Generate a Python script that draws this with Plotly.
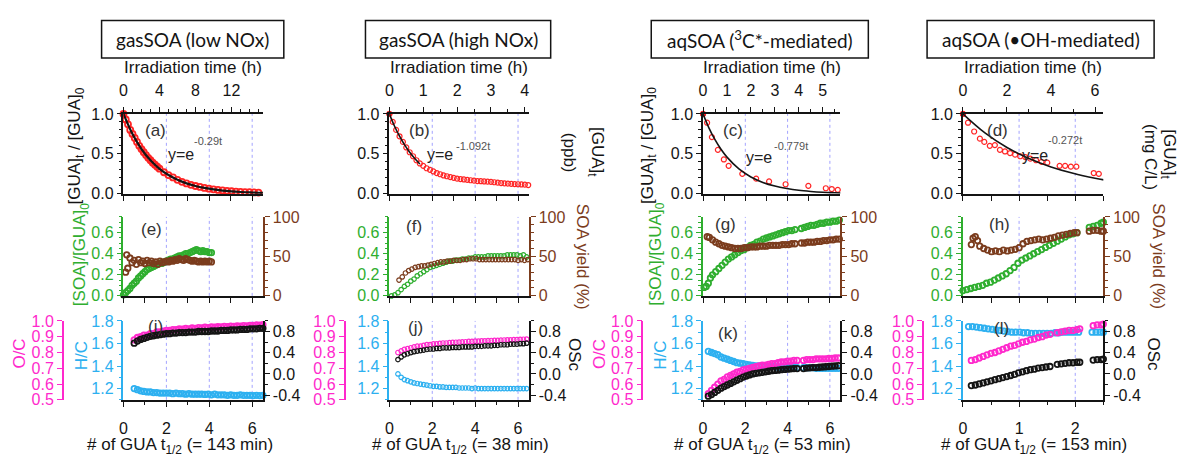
import plotly.graph_objects as go

W, H = 1183, 457
FONT = "Liberation Sans, Arial, sans-serif"
TITLE_FONT = "Lato, Liberation Sans, sans-serif"

RED = "#ff2424"
GREEN = "#2fae2f"
BROWN = "#7b3c1d"
MAGENTA = "#ff29cc"
BLUE = "#2db0f0"
BLACK = "#141414"
DASH = "#a3a3ff"

# ---------------- DATA ----------------
titles = ["gasSOA (low NOx)", "gasSOA (high NOx)",
          "aqSOA (<sup>3</sup>C*-mediated)", "aqSOA (\u2022OH-mediated)"]
half_life_min = [143, 38, 53, 153]
n_max = [6.5, 6.5, 6.5, 2.5]
fit_exponents = ["-0.29t", "-1.092t", "-0.779t", "-0.272t"]
letters = [["(a)", "(e)", "(i)"], ["(b)", "(f)", "(j)"],
           ["(c)", "(g)", "(k)"], ["(d)", "(h)", "(l)"]]
r1_right_max = [5.53, 51.7, 12.45, 12.45]
r1_right_ticks = [[0, 1, 2, 3, 4, 5], [0, 10, 20, 30, 40, 50], [0, 4, 8, 12], [0, 4, 8, 12]]
hour_ticks = [[0, 4, 8, 12], [0, 1, 2, 3, 4], [0, 1, 2, 3, 4, 5], [0, 2, 4, 6]]
hour_minor = [1, 0.5, 0.5, 1]
n_ticks = [[0, 2, 4, 6], [0, 2, 4, 6], [0, 2, 4, 6], [0, 1, 2]]
n_minor = [1, 1, 1, 0.5]
half_life_marks = [[2, 4, 6], [2, 4, 6], [2, 4, 6], [1, 2]]
frac_ticks = [0.0, 0.5, 1.0]
soa_ticks = [0.0, 0.2, 0.4, 0.6]
yield_ticks = [0, 50, 100]
hc_ticks = [1.2, 1.4, 1.6, 1.8]
oc_ticks = [0.5, 0.6, 0.7, 0.8, 0.9, 1.0]
osc_ticks = [-0.4, 0.0, 0.4, 0.8]

# (a)-(d): [GUA]t/[GUA]0 vs irradiation time (h)
a_t = [0, 0.25, 0.5, 0.75, 1, 1.25, 1.5, 1.75, 2, 2.25, 2.5, 2.75, 3, 3.25, 3.5, 3.75, 4,
       4.5, 5, 5.5, 6, 6.5, 7, 7.5, 8, 8.5, 9, 9.5, 10, 10.5, 11, 11.5, 12, 12.5, 13, 13.5,
       14, 14.5, 15, 15.5]
a_gua = [1.00, 0.93, 0.87, 0.80, 0.75, 0.70, 0.65, 0.60, 0.56, 0.52, 0.485, 0.45, 0.42, 0.39,
         0.365, 0.34, 0.315, 0.27, 0.235, 0.205, 0.175, 0.15, 0.13, 0.113, 0.098, 0.086, 0.074,
         0.064, 0.056, 0.049, 0.042, 0.037, 0.032, 0.028, 0.025, 0.022, 0.02, 0.018, 0.016, 0.015]
a_fit_t = [0, 1, 2, 3, 4, 5, 6, 7, 8, 9, 10, 11, 12, 13, 14, 15, 15.5]
a_fit = [1.0, 0.748, 0.560, 0.419, 0.313, 0.235, 0.176, 0.131, 0.098, 0.074, 0.055, 0.041,
         0.031, 0.023, 0.017, 0.013, 0.011]

b_t = [0, 0.1, 0.2, 0.3, 0.4, 0.5, 0.6, 0.7, 0.8, 0.9, 1.0, 1.1, 1.2, 1.3, 1.4, 1.5, 1.6, 1.7,
       1.8, 1.9, 2.0, 2.1, 2.2, 2.3, 2.4, 2.5, 2.6, 2.7, 2.8, 2.9, 3.0, 3.1, 3.2, 3.3, 3.4, 3.5,
       3.6, 3.7, 3.8, 3.9, 4.0, 4.1]
b_gua = [1.0, 0.90, 0.80, 0.72, 0.65, 0.58, 0.52, 0.47, 0.42, 0.38, 0.35, 0.32, 0.30, 0.28,
         0.26, 0.245, 0.23, 0.22, 0.21, 0.20, 0.19, 0.185, 0.18, 0.175, 0.17, 0.165, 0.16,
         0.158, 0.155, 0.152, 0.15, 0.145, 0.14, 0.135, 0.13, 0.128, 0.125, 0.122, 0.12,
         0.117, 0.115, 0.11]
b_fit_t = [0, 0.15, 0.3, 0.45, 0.6, 0.75, 0.9]
b_fit = [1.0, 0.849, 0.721, 0.612, 0.519, 0.441, 0.374]

c_t = [0, 0.17, 0.37, 0.62, 0.87, 1.07, 1.64, 2.22, 2.76, 3.45, 4.40, 5.13, 5.38, 5.63]
c_gua = [1.0, 0.89, 0.71, 0.55, 0.43, 0.35, 0.25, 0.19, 0.155, 0.12, 0.10, 0.07, 0.06, 0.05]
c_fit_t = [0, 0.25, 0.5, 0.75, 1, 1.5, 2, 2.5, 3, 3.5, 4, 4.5, 5, 5.5, 5.75]
c_fit = [1.0, 0.823, 0.677, 0.557, 0.459, 0.311, 0.211, 0.143, 0.097, 0.066, 0.044, 0.030,
         0.020, 0.014, 0.011]

d_t = [0, 0.23, 0.51, 0.77, 0.97, 1.22, 1.45, 1.68, 1.91, 2.14, 2.37, 2.60, 2.83, 3.06, 3.32,
       3.57, 3.83, 4.39, 4.64, 4.90, 5.15, 5.94, 6.17]
d_gua = [1.0, 0.89, 0.78, 0.69, 0.65, 0.60, 0.61, 0.55, 0.53, 0.51, 0.49, 0.47, 0.46, 0.44,
         0.42, 0.40, 0.39, 0.35, 0.35, 0.34, 0.34, 0.26, 0.25]
d_fit_t = [0, 1, 2, 3, 4, 5, 6, 6.4]
d_fit = [1.0, 0.762, 0.580, 0.442, 0.337, 0.257, 0.195, 0.175]

# (e)-(h): [SOA]/[GUA]0 and SOA yield (%) vs number of GUA half-lives
e_n = [0.0, 0.1, 0.2, 0.3, 0.4, 0.5, 0.6, 0.7, 0.8, 0.9, 1.0, 1.1, 1.2, 1.3, 1.4, 1.5, 1.6,
       1.7, 1.8, 1.9, 2.0, 2.1, 2.2, 2.3, 2.4, 2.5, 2.6, 2.7, 2.8, 2.9, 3.0, 3.1, 3.2, 3.3, 3.4,
       3.5, 3.6, 3.7, 3.8, 3.9, 4.0, 4.1]
e_soa = [0.01, 0.03, 0.05, 0.07, 0.10, 0.12, 0.14, 0.17, 0.19, 0.21, 0.23, 0.25, 0.26, 0.27,
         0.28, 0.29, 0.30, 0.31, 0.31, 0.32, 0.33, 0.34, 0.35, 0.35, 0.36, 0.37, 0.38, 0.38,
         0.39, 0.40, 0.40, 0.41, 0.42, 0.43, 0.44, 0.43, 0.42, 0.43, 0.42, 0.42, 0.41, 0.41]
e_yn = [0.1, 0.15, 0.2, 0.3, 0.4, 0.5, 0.6, 0.7, 0.8, 0.9, 1.0, 1.1, 1.2, 1.3, 1.4, 1.5, 1.6,
        1.7, 1.8, 1.9, 2.0, 2.1, 2.2, 2.3, 2.4, 2.5, 2.6, 2.7, 2.8, 2.9, 3.0, 3.1, 3.2, 3.3,
        3.4, 3.5, 3.6, 3.7, 3.8, 3.9, 4.0, 4.1]
e_yield = [30, 52, 35, 48, 42, 45, 40, 46, 42, 44, 41, 45, 42, 44, 41, 43, 40, 44, 42, 43, 44,
           43, 45, 44, 46, 45, 47, 46, 45, 47, 46, 45, 44, 45, 44, 43, 44, 43, 44, 43, 44, 43]

f_n = [0.1, 0.25, 0.4, 0.55, 0.7, 0.85, 1.0, 1.15, 1.3, 1.45, 1.6, 1.75, 1.9, 2.05, 2.2, 2.35,
       2.5, 2.65, 2.8, 2.95, 3.1, 3.25, 3.4, 3.55, 3.7, 3.85, 4.0, 4.15, 4.3, 4.45, 4.6, 4.75,
       4.9, 5.05, 5.2, 5.35, 5.5, 5.65, 5.8, 5.95, 6.1, 6.25, 6.4]
f_soa = [0.0, 0.01, 0.03, 0.06, 0.09, 0.11, 0.14, 0.16, 0.19, 0.21, 0.23, 0.25, 0.27, 0.28,
         0.29, 0.30, 0.31, 0.32, 0.33, 0.33, 0.34, 0.34, 0.35, 0.35, 0.36, 0.36, 0.37, 0.37,
         0.37, 0.37, 0.38, 0.38, 0.38, 0.38, 0.38, 0.38, 0.39, 0.39, 0.39, 0.39, 0.38, 0.39, 0.37]
f_yn = [0.45, 0.6, 0.75, 0.9, 1.05, 1.2, 1.35, 1.5, 1.65, 1.8, 1.95, 2.1, 2.25, 2.4, 2.55, 2.7,
        2.85, 3.0, 3.15, 3.3, 3.45, 3.6, 3.75, 3.9, 4.05, 4.2, 4.35, 4.5, 4.65, 4.8, 4.95, 5.1,
        5.25, 5.4, 5.55, 5.7, 5.85, 6.0, 6.15, 6.3, 6.45]
f_yield = [20, 24, 29, 32, 34, 36, 37, 38, 38, 39, 40, 41, 42, 43, 43, 44, 44, 45, 45, 45, 46,
           46, 47, 47, 47, 46, 46, 46, 46, 46, 46, 46, 46, 46, 46, 46, 46, 45, 46, 45, 46]

g_n = [0.05, 0.15, 0.25, 0.35, 0.45, 0.6, 0.75, 0.9, 1.05, 1.2, 1.35, 1.5, 1.65, 1.8, 1.95,
       2.1, 2.25, 2.4, 2.55, 2.7, 2.85, 3.0, 3.15, 3.3, 3.45, 3.6, 3.75, 3.9, 4.05, 4.2, 4.35,
       4.65, 4.8, 4.95, 5.1, 5.25, 5.4, 5.55, 5.7, 5.85, 6.0, 6.15, 6.3, 6.45]
g_soa = [0.08, 0.09, 0.12, 0.17, 0.20, 0.23, 0.26, 0.29, 0.32, 0.35, 0.37, 0.39, 0.41, 0.43,
         0.44, 0.46, 0.48, 0.49, 0.51, 0.52, 0.54, 0.55, 0.56, 0.57, 0.58, 0.59, 0.60, 0.61,
         0.62, 0.62, 0.63, 0.64, 0.65, 0.66, 0.67, 0.67, 0.68, 0.69, 0.69, 0.70, 0.70, 0.71,
         0.71, 0.72]
g_yn = [0.2, 0.3, 0.45, 0.6, 0.75, 0.9, 1.05, 1.2, 1.35, 1.5, 1.65, 1.8, 1.95, 2.1, 2.25, 2.4,
        2.55, 2.7, 2.85, 3.0, 3.15, 3.3, 3.45, 3.6, 3.75, 3.9, 4.05, 4.2, 4.35, 4.65, 4.8, 4.95,
        5.1, 5.25, 5.4, 5.55, 5.7, 5.85, 6.0, 6.15, 6.3, 6.45]
g_yield = [75, 74, 71, 68, 66, 64, 63, 62, 61, 60, 60, 60, 61, 61, 62, 62, 62, 63, 63, 63, 64,
           64, 64, 64, 65, 65, 65, 66, 66, 67, 67, 68, 68, 68, 69, 69, 70, 70, 71, 71, 72, 72]

h_n = [0, 0.07, 0.14, 0.21, 0.28, 0.35, 0.42, 0.49, 0.56, 0.63, 0.70, 0.77, 0.84, 0.91, 0.98,
       1.05, 1.12, 1.19, 1.26, 1.33, 1.40, 1.47, 1.54, 1.61, 1.68, 1.75, 1.82, 1.89, 1.96, 2.03,
       2.25, 2.32, 2.39, 2.46, 2.5]
h_soa = [0.05, 0.06, 0.07, 0.08, 0.09, 0.10, 0.12, 0.13, 0.15, 0.17, 0.19, 0.21, 0.24, 0.27,
         0.31, 0.34, 0.36, 0.38, 0.40, 0.42, 0.44, 0.46, 0.48, 0.50, 0.52, 0.54, 0.56, 0.58,
         0.59, 0.60, 0.65, 0.66, 0.67, 0.69, 0.70]
h_yn = [0.15, 0.18, 0.22, 0.26, 0.30, 0.37, 0.44, 0.51, 0.58, 0.65, 0.72, 0.79, 0.86, 0.93,
        1.00, 1.07, 1.14, 1.21, 1.28, 1.35, 1.42, 1.49, 1.56, 1.63, 1.70, 1.77, 1.84, 1.91,
        1.98, 2.03, 2.25, 2.32, 2.39, 2.46, 2.5]
h_yield = [65, 73, 75, 70, 63, 60, 58, 56, 57, 56, 58, 57, 58, 59, 61, 66, 69, 70, 71, 72, 71,
           72, 73, 74, 76, 77, 78, 79, 80, 80, 82, 83, 83, 82, 82]

# (i)-(l): H/C, O/C and OSc vs number of GUA half-lives
i_n = [0.5, 0.65, 0.8, 0.95, 1.1, 1.25, 1.4, 1.55, 1.7, 1.85, 2.0, 2.15, 2.3, 2.45, 2.6, 2.75,
       2.9, 3.05, 3.2, 3.35, 3.5, 3.65, 3.8, 3.95, 4.1, 4.25, 4.4, 4.55, 4.7, 4.85, 5.0, 5.15,
       5.3, 5.45, 5.6, 5.75, 5.9, 6.05, 6.2, 6.35, 6.5]
i_hc = [1.20, 1.19, 1.18, 1.175, 1.17, 1.17, 1.165, 1.165, 1.16, 1.16, 1.16, 1.16, 1.155, 1.16,
        1.155, 1.155, 1.15, 1.155, 1.15, 1.15, 1.15, 1.15, 1.148, 1.15, 1.145, 1.15, 1.145,
        1.145, 1.145, 1.14, 1.145, 1.14, 1.14, 1.145, 1.14, 1.14, 1.14, 1.138, 1.14, 1.138, 1.14]
i_oc = [0.88, 0.895, 0.90, 0.91, 0.91, 0.92, 0.92, 0.93, 0.93, 0.935, 0.94, 0.94, 0.945, 0.945,
        0.95, 0.948, 0.952, 0.95, 0.955, 0.953, 0.957, 0.955, 0.96, 0.958, 0.962, 0.96, 0.963,
        0.962, 0.965, 0.964, 0.967, 0.966, 0.968, 0.967, 0.97, 0.969, 0.972, 0.971, 0.974,
        0.973, 0.976]
i_osc = [0.58, 0.62, 0.65, 0.67, 0.69, 0.71, 0.72, 0.73, 0.74, 0.75, 0.76, 0.76, 0.77, 0.77,
         0.78, 0.78, 0.78, 0.79, 0.79, 0.79, 0.80, 0.80, 0.80, 0.80, 0.81, 0.81, 0.81, 0.82,
         0.82, 0.82, 0.83, 0.83, 0.83, 0.84, 0.84, 0.84, 0.85, 0.85, 0.85, 0.86, 0.86]

j_n = [0.4, 0.55, 0.7, 0.85, 1.0, 1.15, 1.3, 1.45, 1.6, 1.75, 1.9, 2.05, 2.2, 2.35, 2.5, 2.65,
       2.8, 2.95, 3.1, 3.25, 3.4, 3.55, 3.7, 3.85, 4.0, 4.15, 4.3, 4.45, 4.6, 4.75, 4.9, 5.05,
       5.2, 5.35, 5.5, 5.65, 5.8, 5.95, 6.1, 6.25, 6.4]
j_hc = [1.33, 1.30, 1.28, 1.27, 1.26, 1.25, 1.245, 1.24, 1.235, 1.23, 1.225, 1.22, 1.22, 1.215,
        1.215, 1.21, 1.21, 1.21, 1.21, 1.205, 1.205, 1.205, 1.205, 1.20, 1.205, 1.20, 1.20,
        1.20, 1.20, 1.20, 1.20, 1.20, 1.20, 1.20, 1.20, 1.20, 1.20, 1.20, 1.20, 1.20, 1.20]
j_oc = [0.80, 0.81, 0.82, 0.825, 0.83, 0.835, 0.84, 0.84, 0.845, 0.85, 0.85, 0.855, 0.855,
        0.858, 0.86, 0.86, 0.862, 0.864, 0.865, 0.866, 0.867, 0.868, 0.87, 0.87, 0.872, 0.872,
        0.874, 0.874, 0.875, 0.876, 0.877, 0.877, 0.878, 0.879, 0.88, 0.88, 0.881, 0.882,
        0.883, 0.884, 0.885]
j_osc = [0.27, 0.32, 0.36, 0.38, 0.40, 0.42, 0.43, 0.44, 0.45, 0.46, 0.47, 0.47, 0.48, 0.48,
         0.49, 0.49, 0.49, 0.50, 0.50, 0.50, 0.51, 0.51, 0.51, 0.51, 0.52, 0.52, 0.52, 0.53,
         0.53, 0.53, 0.54, 0.54, 0.55, 0.55, 0.55, 0.56, 0.56, 0.56, 0.57, 0.57, 0.58]

k_n = [0.25, 0.4, 0.55, 0.7, 0.85, 1.0, 1.15, 1.3, 1.45, 1.6, 1.75, 1.9, 2.05, 2.2, 2.35, 2.5,
       2.65, 2.8, 2.95, 3.1, 3.25, 3.4, 3.55, 3.7, 3.85, 4.0, 4.15, 4.3, 4.45, 4.75, 4.9, 5.05,
       5.2, 5.35, 5.5, 5.65, 5.8, 5.95, 6.1, 6.25, 6.4]
k_hc = [1.53, 1.52, 1.51, 1.50, 1.48, 1.47, 1.46, 1.45, 1.44, 1.43, 1.425, 1.42, 1.415, 1.41,
        1.405, 1.40, 1.40, 1.40, 1.40, 1.395, 1.395, 1.395, 1.39, 1.39, 1.39, 1.39, 1.39, 1.39,
        1.385, 1.385, 1.385, 1.385, 1.385, 1.38, 1.38, 1.38, 1.38, 1.38, 1.38, 1.38, 1.38]
k_oc = [0.54, 0.56, 0.58, 0.60, 0.62, 0.63, 0.645, 0.655, 0.665, 0.675, 0.68, 0.69, 0.695,
        0.70, 0.705, 0.71, 0.715, 0.72, 0.72, 0.725, 0.73, 0.73, 0.735, 0.74, 0.74, 0.745,
        0.745, 0.75, 0.75, 0.75, 0.755, 0.755, 0.755, 0.76, 0.76, 0.76, 0.76, 0.762, 0.762,
        0.765, 0.765]
k_osc = [-0.42, -0.39, -0.35, -0.31, -0.27, -0.24, -0.21, -0.18, -0.15, -0.12, -0.09, -0.06,
         -0.04, -0.02, 0.0, 0.01, 0.02, 0.03, 0.04, 0.05, 0.06, 0.065, 0.07, 0.08, 0.085, 0.09,
         0.095, 0.10, 0.10, 0.10, 0.11, 0.115, 0.12, 0.12, 0.125, 0.13, 0.135, 0.14, 0.145,
         0.15, 0.155]

l_hn = [0.10, 0.17, 0.24, 0.31, 0.38, 0.45, 0.52, 0.59, 0.66, 0.73, 0.80, 0.87, 0.94, 1.01,
        1.08, 1.15, 1.22, 1.29, 1.36, 1.43, 1.50, 1.57, 1.64, 1.71, 1.78, 1.85, 1.92, 1.99,
        2.06, 2.30, 2.37, 2.44, 2.50]
l_hc = [1.75, 1.75, 1.745, 1.74, 1.735, 1.73, 1.725, 1.72, 1.715, 1.71, 1.705, 1.70, 1.70,
        1.70, 1.695, 1.695, 1.69, 1.69, 1.69, 1.69, 1.69, 1.69, 1.695, 1.695, 1.70, 1.70, 1.70,
        1.70, 1.70, 1.70, 1.70, 1.70, 1.70]
l_n = [0.15, 0.22, 0.29, 0.36, 0.43, 0.50, 0.57, 0.64, 0.71, 0.78, 0.85, 0.92, 0.99, 1.06,
       1.13, 1.20, 1.27, 1.34, 1.41, 1.48, 1.55, 1.68, 1.75, 1.82, 1.89, 1.96, 2.03, 2.08,
       2.32, 2.39, 2.46, 2.50]
l_oc = [0.75, 0.755, 0.765, 0.775, 0.785, 0.795, 0.80, 0.81, 0.82, 0.83, 0.84, 0.845, 0.855,
        0.865, 0.87, 0.88, 0.885, 0.895, 0.90, 0.91, 0.915, 0.925, 0.93, 0.935, 0.94, 0.94,
        0.945, 0.95, 0.97, 0.975, 0.975, 0.98]
l_osc = [-0.22, -0.21, -0.19, -0.17, -0.15, -0.13, -0.11, -0.09, -0.07, -0.05, -0.03, -0.01,
         0.02, 0.04, 0.06, 0.08, 0.09, 0.11, 0.12, 0.13, 0.14, 0.18, 0.19, 0.20, 0.21, 0.21,
         0.22, 0.22, 0.26, 0.27, 0.27, 0.28]

gua = [(a_t, a_gua, a_fit_t, a_fit), (b_t, b_gua, b_fit_t, b_fit),
       (c_t, c_gua, c_fit_t, c_fit), (d_t, d_gua, d_fit_t, d_fit)]
soa = [(e_n, e_soa, e_yn, e_yield), (f_n, f_soa, f_yn, f_yield),
       (g_n, g_soa, g_yn, g_yield), (h_n, h_soa, h_yn, h_yield)]
elem = [(i_n, i_hc, i_n, i_oc, i_osc), (j_n, j_hc, j_n, j_oc, j_osc),
        (k_n, k_hc, k_n, k_oc, k_osc), (l_hn, l_hc, l_n, l_oc, l_osc)]

# ---------------- LAYOUT (pixel geometry) ----------------
COL_L = [120, 387, 702, 963]
COL_R = [260, 527, 840, 1104]
OC_X = [59, 342, 641, 923]
ROWS = [(110, 193), (217, 299), (325, 407)]
BOX = [(98, 281), (363, 549), (650, 868), (927, 1155)]
BOTTOM_TITLE_X = [177, 458, 762, 1034]
LETTER_POS = [[(152, 127), (148, 230), (152, 331)], [(417, 127), (412, 227), (413, 332)],
              [(732, 127), (725, 225), (727, 338)], [(998, 127), (1000, 225), (1002, 333)]]
FIT_POS = [((163, 152), (205, 138)), ((423, 152), (471, 143)),
           ((743, 155), (790, 143)), ((1020, 153), (1066, 137))]
dense = [True, False, True, True]

fig = go.Figure()
layout = {}
shapes = []
annotations = []
counter = {"x": 0, "y": 0}


def new_axis(kind):
    counter[kind] += 1
    i = counter[kind]
    suffix = "" if i == 1 else str(i)
    return f"{kind}axis{suffix}", f"{kind}{suffix}"


def axis(color=BLACK, **kw):
    d = dict(showgrid=False, zeroline=False, showline=True, linecolor=color, linewidth=1.5,
             ticks="outside", ticklen=5, tickwidth=1.3, tickcolor=color,
             tickfont=dict(family=FONT, size=16, color=color), fixedrange=True)
    d.update(kw)
    return d


def minor(dt, color=BLACK):
    return dict(tickmode="linear", tick0=0, dtick=dt, ticks="outside", ticklen=3,
                tickwidth=1, tickcolor=color, showgrid=False)


def fmt1(v):
    return f"{v:.1f}"


def ann(text, x, y, size=17, color=BLACK, angle=0, family=FONT, xanchor="center",
        yanchor="middle"):
    annotations.append(dict(text=text, x=x / W, y=1 - y / H, xref="paper", yref="paper",
                            showarrow=False, textangle=angle, xanchor=xanchor, yanchor=yanchor,
                            font=dict(family=family, size=size, color=color)))


def ydom(r):
    t, b = ROWS[r]
    return [1 - b / H, 1 - t / H]


for c in range(4):
    xdom = [COL_L[c] / W, COL_R[c] / W]
    nmax = n_max[c]
    hmax = nmax * half_life_min[c] / 60.0
    mk = 5.5 if dense[c] else 4.5
    mlw = 1.8 if dense[c] else 1.2

    # ---------- row 1 ----------
    xn1, xn1r = new_axis("x")
    xh, xhr = new_axis("x")
    y1l, y1lr = new_axis("y")
    y1r, y1rr = new_axis("y")
    layout[xn1] = axis(domain=xdom, anchor=y1lr, range=[0, nmax], tickmode="linear", tick0=0,
                       dtick=n_minor[c], showticklabels=False)
    layout[xh] = axis(overlaying=xn1r, side="top", anchor=y1lr, range=[0, hmax],
                      tickvals=hour_ticks[c], ticktext=[str(v) for v in hour_ticks[c]],
                      minor=minor(hour_minor[c]), ticklabelstandoff=5)
    layout[y1l] = axis(domain=ydom(0), anchor=xn1r, range=[0, 1.0], tickvals=frac_ticks,
                       ticktext=[fmt1(v) for v in frac_ticks], minor=minor(0.1))
    layout[y1r] = axis(overlaying=y1lr, side="right", anchor=xn1r, range=[0, r1_right_max[c]],
                       tickvals=r1_right_ticks[c], ticktext=[str(v) for v in r1_right_ticks[c]],
                       minor=minor(r1_right_ticks[c][1] / 2))
    t, g, ft, fv = gua[c]
    rmk = 6 if c == 0 else 5
    fig.add_trace(go.Scatter(x=t, y=g, xaxis=xhr, yaxis=y1lr, mode="markers", cliponaxis=False,
                             marker=dict(symbol="circle-open", size=rmk, color=RED,
                                         line=dict(width=1.8 if c == 0 else 1.2, color=RED))))
    fig.add_trace(go.Scatter(x=[t[0]], y=[g[0]], xaxis=xhr, yaxis=y1lr, mode="markers",
                             cliponaxis=False, marker=dict(size=6, color=RED)))
    fig.add_trace(go.Scatter(x=ft, y=fv, xaxis=xhr, yaxis=y1lr, mode="lines",
                             line=dict(color=BLACK, width=2.2 if c == 0 else 1.6,
                                       shape="spline")))

    # ---------- row 2 ----------
    xn2, xn2r = new_axis("x")
    y2l, y2lr = new_axis("y")
    y2r, y2rr = new_axis("y")
    layout[xn2] = axis(domain=xdom, anchor=y2lr, range=[0, nmax], tickmode="linear", tick0=0,
                       dtick=n_minor[c], showticklabels=False)
    layout[y2l] = axis(color=GREEN, domain=ydom(1), anchor=xn2r, range=[0, 0.75],
                       tickvals=soa_ticks, ticktext=[fmt1(v) for v in soa_ticks],
                       minor=minor(0.05, GREEN))
    layout[y2r] = axis(color=BROWN, overlaying=y2lr, side="right", anchor=xn2r,
                       range=[0, 100], tickvals=yield_ticks,
                       ticktext=[str(v) for v in yield_ticks], minor=minor(10, BROWN))
    sn, sv, yn, yv = soa[c]
    fig.add_trace(go.Scatter(x=sn, y=sv, xaxis=xn2r, yaxis=y2lr, mode="markers",
                             cliponaxis=False,
                             marker=dict(symbol="circle-open", size=mk, color=GREEN,
                                         line=dict(width=mlw, color=GREEN))))
    fig.add_trace(go.Scatter(x=yn, y=yv, xaxis=xn2r, yaxis=y2rr, mode="markers",
                             cliponaxis=False,
                             marker=dict(symbol="circle-open", size=mk, color=BROWN,
                                         line=dict(width=mlw, color=BROWN))))

    # ---------- row 3 ----------
    xn3, xn3r = new_axis("x")
    y3h, y3hr = new_axis("y")
    y3o, y3or = new_axis("y")
    y3s, y3sr = new_axis("y")
    layout[xn3] = axis(domain=xdom, anchor=y3hr, range=[0, nmax], tickvals=n_ticks[c],
                       ticktext=[str(v) for v in n_ticks[c]], minor=minor(n_minor[c]),
                       ticklabelstandoff=8)
    layout[y3h] = axis(color=BLUE, domain=ydom(2), anchor=xn3r, range=[1.1, 1.8],
                       tickvals=hc_ticks, ticktext=[fmt1(v) for v in hc_ticks],
                       minor=minor(0.1, BLUE))
    layout[y3o] = axis(color=MAGENTA, overlaying=y3hr, anchor="free", position=OC_X[c] / W,
                       side="left", range=[0.5, 1.0], tickvals=oc_ticks,
                       ticktext=[fmt1(v) for v in oc_ticks])
    layout[y3s] = axis(overlaying=y3hr, side="right", anchor=xn3r, range=[-0.49, 1.0],
                       tickvals=osc_ticks, ticktext=[fmt1(v) for v in osc_ticks],
                       minor=minor(0.2))
    hn, hv, on, ov, sv3 = elem[c]
    for xs, ys, yr, col in [(hn, hv, y3hr, BLUE), (on, ov, y3or, MAGENTA), (on, sv3, y3sr, BLACK)]:
        fig.add_trace(go.Scatter(x=xs, y=ys, xaxis=xn3r, yaxis=yr, mode="markers",
                                 cliponaxis=False,
                                 marker=dict(symbol="circle-open", size=mk, color=col,
                                             line=dict(width=mlw, color=col))))

    # dashed half-life markers
    for xr, yr in [(xn1r, y1lr), (xn2r, y2lr), (xn3r, y3hr)]:
        for v in half_life_marks[c]:
            shapes.append(dict(type="line", xref=xr, yref=f"{yr} domain", x0=v, x1=v, y0=0,
                               y1=1, layer="below",
                               line=dict(color=DASH, width=1, dash="3px,3px")))

    # title box
    bl, br = BOX[c]
    shapes.append(dict(type="rect", xref="paper", yref="paper", x0=bl / W, x1=br / W,
                       y0=1 - 52 / H, y1=1 - 13 / H, line=dict(color=BLACK, width=1.5)))
    ann(titles[c], (bl + br) / 2, 33, size=19, family=TITLE_FONT)

    # axis titles
    ann("Irradiation time (h)", (COL_L[c] + COL_R[c]) / 2, 62)
    ann("# of GUA t<sub>1/2</sub> (= %d min)" % half_life_min[c], BOTTOM_TITLE_X[c], 455)

    # panel letters
    for r in range(3):
        lx, ly = LETTER_POS[c][r]
        ann(letters[c][r], lx, ly, size=17, color="#333333")

    # fit equation
    (ex, ey), (sx, sy) = FIT_POS[c]
    ann("y=e", ex, ey, size=16, color="#222222", xanchor="left")
    ann(fit_exponents[c], sx, sy, size=11, color="#555555")

# left side titles (columns 1 and 3)
for xg, xs, xo, xhc in [(72, 78, 16, 78), (647, 656, 598, 659)]:
    ann("[GUA]<sub>t</sub> / [GUA]<sub>0</sub>", xg, 143, angle=-90)
    ann("[SOA]/[GUA]<sub>0</sub>", xs, 256, angle=-90, color=GREEN)
    ann("O/C", xo, 359, angle=-90, color=MAGENTA)
    ann("H/C", xhc, 361, angle=-90, color=BLUE)

# right side titles (columns 2 and 4)
ann("[GUA]<sub>t</sub>", 594, 150, angle=90)
ann("(ppb)", 568, 150, angle=90)
ann("[GUA]<sub>t</sub>", 1169, 152, angle=90)
ann("(mg C/L)", 1152, 155, angle=90)
for xy in [581, 1159]:
    ann("SOA yield (%)", xy, 258, angle=90, color=BROWN)
for xo in [573, 1154]:
    ann("OSc", xo, 360, angle=90)

fig.update_layout(width=W, height=H, margin=dict(l=0, r=0, t=0, b=0), autosize=False,
                  paper_bgcolor="white", plot_bgcolor="rgba(0,0,0,0)", showlegend=False,
                  shapes=shapes, annotations=annotations,
                  font=dict(family=FONT, size=16, color=BLACK), **layout)
fig.write_html("out.html")
